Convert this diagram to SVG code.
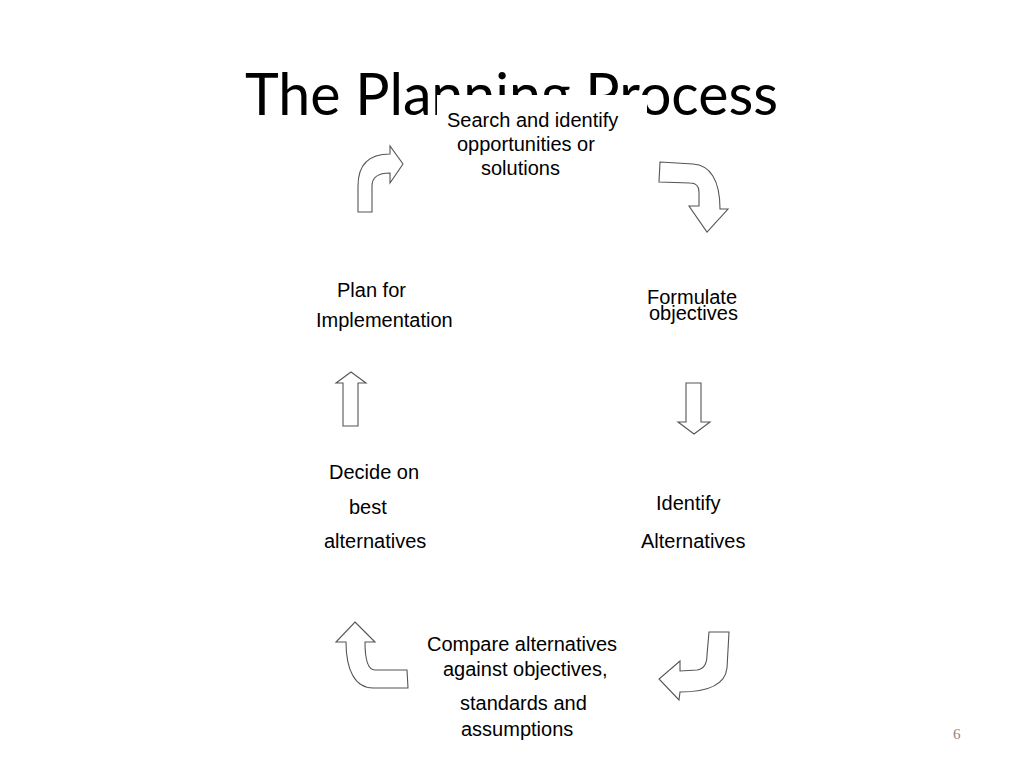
<svg xmlns="http://www.w3.org/2000/svg" width="1024" height="768" viewBox="0 0 1024 768">
<style>
.t{font-family:"Liberation Sans",Arial,sans-serif;font-size:20px;fill:#000}
.title{font-family:Lato,"Liberation Sans",sans-serif;font-size:58px;fill:#000}
.arr{fill:#fff;stroke:#555;stroke-width:1.1;stroke-linejoin:miter}
.pg{font-family:"Liberation Serif",serif;font-size:15px;fill:#888}
</style>
<rect width="1024" height="768" fill="#fff"/>
<text class="title" x="245" y="115" textLength="533" lengthAdjust="spacingAndGlyphs">The Planning Process</text>
<g id="n-search">
<rect x="437" y="95" width="210" height="90" fill="#fff"/>
<text class="t" x="447" y="127">Search and identify</text>
<text class="t" x="457" y="151">opportunities or</text>
<text class="t" x="481" y="175">solutions</text>
</g>
<g id="n-formulate">
<text class="t" x="647" y="304">Formulate</text>
<text class="t" x="649" y="320">objectives</text>
</g>
<g id="n-identify">
<text class="t" x="656" y="510">Identify</text>
<text class="t" x="641" y="548">Alternatives</text>
</g>
<g id="n-compare">
<text class="t" x="427" y="651">Compare alternatives</text>
<text class="t" x="443" y="676">against objectives,</text>
<text class="t" x="460" y="710">standards and</text>
<text class="t" x="461" y="736">assumptions</text>
</g>
<g id="n-decide">
<text class="t" x="329" y="479">Decide on</text>
<text class="t" x="349" y="514">best</text>
<text class="t" x="324" y="548">alternatives</text>
</g>
<g id="n-plan">
<text class="t" x="337" y="297">Plan for</text>
<text class="t" x="316" y="327">Implementation</text>
</g>
<g id="connectors">
<path class="arr" d="M358,212 L358,186 Q358,154 390,154 L390,146 L403,164 L390,183 L390,173 Q372,173 372,186 L372,212 Z"/>
<path class="arr" d="M660,162 L693,164 C710,165 720,180 720,209 L728,209 L707,232 L689,206 L699,206 L699,192 Q699,183 690,183 L659,182 Z"/>
<path class="arr" d="M686,383 L701,383 L701,422 L710,422 L694,434 L678,422 L686,422 Z"/>
<path class="arr" d="M709,632 L729,632 L727,668 C725,686 705,692 680,692 L679,700 L659,679 L680,661 L680,671 L697,670 C704,669 707,664 707,655 Z"/>
<path class="arr" d="M355,622 L375,642 L365,642 C365,660 368,670 375,670 L407,670 L408,688 L373,688 C355,688 346,670 346,642 L336,642 Z"/>
<path class="arr" d="M351,372 L366,383 L358,383 L358,426 L343,426 L343,383 L336,383 Z"/>
</g>
<text class="pg" x="953" y="739">6</text>
</svg>
